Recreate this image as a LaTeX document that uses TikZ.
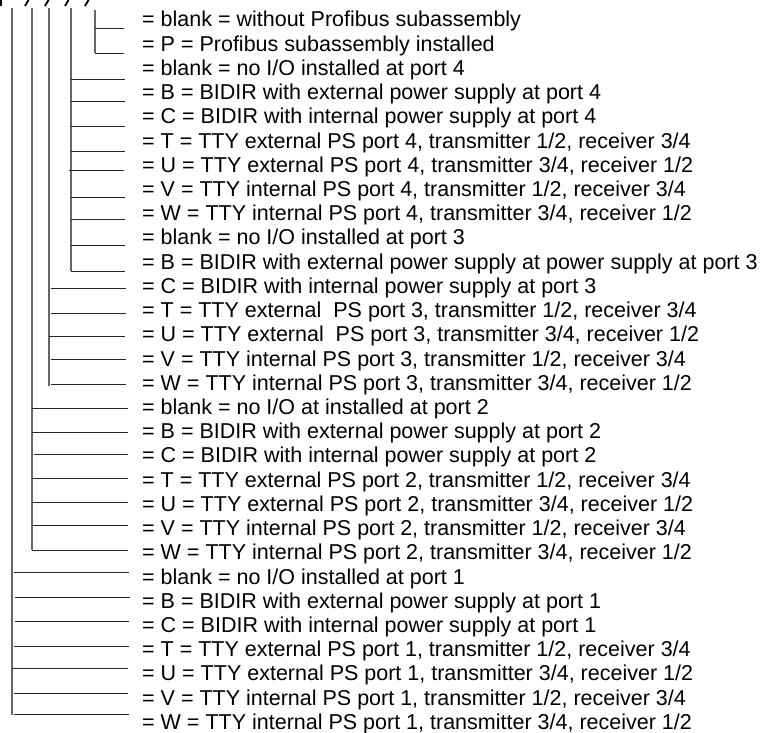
\documentclass[tikz,border=0pt]{standalone}
\usepackage{fontspec}
\setmainfont{Liberation Sans}
\begin{document}
\begin{tikzpicture}[x=1pt,y=-1pt,
  vline/.style={draw=black!60,line width=1.4pt},
  hline/.style={draw=black!85,line width=0.9pt},
  frag/.style={draw=black,line width=1.8pt},
  lbl/.style={anchor=base west,inner sep=0pt,font=\fontsize{21.5}{24}\selectfont}]
\useasboundingbox (0,0) rectangle (766,733);
% fragments of cut characters at the top
\draw[frag] (1,0) -- (1,6);
\foreach \fx in {25,45,65,85}{\draw[frag] (\fx,6) -- (\fx+3.5,0);}
% vertical trunks
\coordinate (v5t) at (95,10);  \coordinate (v5b) at (95,53);
\coordinate (v4t) at (71,8);   \coordinate (v4b) at (71,271);
\coordinate (v3t) at (49,8);   \coordinate (v3b) at (49,386);
\coordinate (v2t) at (32,8);   \coordinate (v2b) at (32,550);
\coordinate (v1t) at (12,8);   \coordinate (v1b) at (12,715);
\foreach \v in {1,...,5}{\draw[vline] (v\v t) -- (v\v b);}
% labels
\foreach \i/\t in {
1/{= blank = without Profibus subassembly},
2/{= P = Profibus subassembly installed},
3/{= blank = no I/O installed at port 4},
4/{= B = BIDIR with external power supply at port 4},
5/{= C = BIDIR with internal power supply at port 4},
6/{= T = TTY external PS port 4, transmitter 1/2, receiver 3/4},
7/{= U = TTY external PS port 4, transmitter 3/4, receiver 1/2},
8/{= V = TTY internal PS port 4, transmitter 1/2, receiver 3/4},
9/{= W = TTY internal PS port 4, transmitter 3/4, receiver 1/2},
10/{= blank = no I/O installed at port 3},
11/{= B = BIDIR with external power supply at power supply at port 3},
12/{= C = BIDIR with internal power supply at port 3},
13/{= T = TTY external\ \ PS port 3, transmitter 1/2, receiver 3/4},
14/{= U = TTY external\ \ PS port 3, transmitter 3/4, receiver 1/2},
15/{= V = TTY internal PS port 3, transmitter 1/2, receiver 3/4},
16/{= W = TTY internal PS port 3, transmitter 3/4, receiver 1/2},
17/{= blank = no I/O at installed at port 2},
18/{= B = BIDIR with external power supply at port 2},
19/{= C = BIDIR with internal power supply at port 2},
20/{= T = TTY external PS port 2, transmitter 1/2, receiver 3/4},
21/{= U = TTY external PS port 2, transmitter 3/4, receiver 1/2},
22/{= V = TTY internal PS port 2, transmitter 1/2, receiver 3/4},
23/{= W = TTY internal PS port 2, transmitter 3/4, receiver 1/2},
24/{= blank = no I/O installed at port 1},
25/{= B = BIDIR with external power supply at port 1},
26/{= C = BIDIR with internal power supply at port 1},
27/{= T = TTY external PS port 1, transmitter 1/2, receiver 3/4},
28/{= U = TTY external PS port 1, transmitter 3/4, receiver 1/2},
29/{= V = TTY internal PS port 1, transmitter 1/2, receiver 3/4},
30/{= W = TTY internal PS port 1, transmitter 3/4, receiver 1/2}}
{\node[lbl] (t\i) at (142,{27+(\i-1)*24.22}) {\t};}
% branches: row / y / start x / end x
\foreach \i/\y/\xa/\xb in {
1/28/95/124, 2/53/95/124,
3/79/71/125, 4/101/71/125, 5/126/71/125, 6/151/71/125, 7/170/69/124,
8/197/71/125, 9/219/71/125, 10/245/71/125, 11/271/71/125,
12/288/51/126, 13/313/51/126, 14/336/49/125, 15/359/51/126, 16/384/51/126,
17/408/32/128, 18/432/32/128, 19/454/34/128, 20/478/32/128, 21/502/32/128,
22/525/32/128, 23/550/32/128,
24/572/14/129, 25/597/15/130, 26/621/15/129, 27/646/14/129, 28/668/12/128,
29/693/14/128, 30/714/14/129}
{\coordinate (b\i s) at (\xa,\y); \coordinate (b\i e) at (\xb,\y);
 \draw[hline] (b\i s) -- (b\i e);}
\end{tikzpicture}
\end{document}
